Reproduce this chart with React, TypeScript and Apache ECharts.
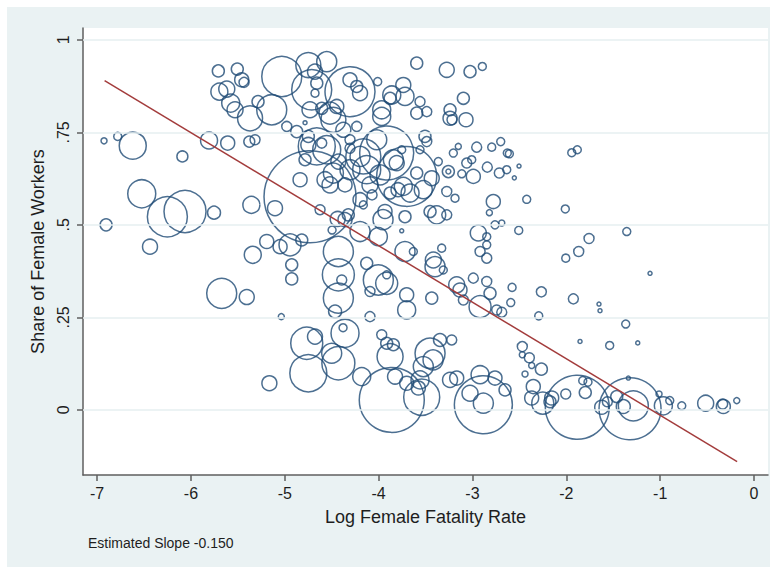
import React, { useEffect, useRef } from "react";
import * as echarts from "echarts";

const xTicks = [-7, -6, -5, -4, -3, -2, -1, 0];
const yTicks = [0, 0.25, 0.5, 0.75, 1];
const xTitle = "Log Female Fatality Rate";
const yTitle = "Share of Female Workers";
const note = "Estimated Slope -0.150";

// fitted regression line endpoints [log fatality, share]
const fitLine = [
  [-6.92, 0.89],
  [-0.18, -0.14],
];

// [log female fatality rate, share of female workers, employment weight]
const industries: [number, number, number][] = [
  [-6.926, 0.727, 9], [-6.78, 0.739, 16], [-6.62, 0.714, 182], [-6.091, 0.685, 30],
  [-5.807, 0.728, 72], [-5.608, 0.721, 49], [-5.378, 0.725, 30], [-5.708, 0.916, 36],
  [-5.506, 0.921, 36], [-5.434, 0.885, 25], [-5.459, 0.892, 49], [-5.697, 0.86, 72],
  [-5.618, 0.867, 64], [-5.576, 0.829, 81], [-5.53, 0.811, 64], [-5.37, 0.788, 156],
  [-5.285, 0.833, 36], [-6.524, 0.584, 196], [-6.251, 0.522, 400], [-6.063, 0.536, 441],
  [-5.754, 0.533, 42], [-6.904, 0.5, 36], [-5.356, 0.554, 72], [-6.436, 0.441, 56],
  [-5.341, 0.419, 72], [-5.672, 0.315, 225], [-5.405, 0.305, 56], [-5.164, 0.072, 56],
  [-5.104, 0.545, 56], [-4.731, 0.576, 2116], [-5.192, 0.455, 49], [-5.05, 0.441, 49],
  [-4.944, 0.446, 121], [-4.819, 0.459, 36], [-4.926, 0.392, 36], [-4.926, 0.354, 36],
  [-5.037, 0.252, 9], [-4.436, 0.516, 56], [-4.358, 0.514, 49], [-4.429, 0.428, 225],
  [-4.429, 0.365, 256], [-4.429, 0.302, 225], [-4.393, 0.351, 25], [-4.464, 0.266, 42],
  [-4.358, 0.207, 196], [-4.379, 0.222, 16], [-4.766, 0.18, 256], [-4.678, 0.198, 56],
  [-4.749, 0.099, 342], [-4.5, 0.153, 100], [-4.429, 0.126, 272], [-4.18, 0.09, 81],
  [-4.198, 0.482, 100], [-4.127, 0.396, 36], [-4.003, 0.351, 225], [-3.914, 0.342, 121],
  [-4.092, 0.32, 25], [-3.914, 0.365, 16], [-4.003, 0.468, 81], [-3.953, 0.514, 100],
  [-3.719, 0.428, 100], [-3.63, 0.428, 16], [-3.754, 0.484, 4], [-3.701, 0.311, 49],
  [-3.701, 0.27, 81], [-4.092, 0.252, 25], [-3.967, 0.203, 25], [-3.914, 0.18, 36],
  [-3.843, 0.176, 36], [-3.878, 0.144, 169], [-3.86, 0.027, 1056], [-3.452, 0.153, 225],
  [-3.42, 0.135, 100], [-3.524, 0.117, 100], [-3.559, 0.081, 81], [-3.541, 0.034, 324],
  [-3.346, 0.189, 42], [-3.221, 0.189, 25], [-3.381, 0.527, 81], [-3.417, 0.405, 64],
  [-3.399, 0.387, 100], [-3.434, 0.302, 36], [-3.311, 0.378, 16], [-3.328, 0.437, 16],
  [-3.274, 0.527, 25], [-3.168, 0.338, 64], [-3.133, 0.324, 49], [-3.097, 0.297, 25],
  [-2.991, 0.356, 25], [-2.938, 0.478, 64], [-2.848, 0.468, 16], [-2.919, 0.428, 25],
  [-2.848, 0.41, 25], [-2.848, 0.347, 25], [-2.919, 0.279, 121], [-2.813, 0.315, 36],
  [-2.742, 0.27, 25], [-2.778, 0.563, 49], [-2.82, 0.533, 9], [-2.76, 0.5, 16],
  [-2.688, 0.505, 9], [-3.239, 0.081, 56], [-3.168, 0.086, 49], [-2.919, 0.095, 81],
  [-2.76, 0.086, 49], [-3.026, 0.045, 64], [-2.884, 0.018, 100], [-2.884, 0.014, 841],
  [-2.653, 0.054, 36], [-3.825, 0.09, 56], [-3.701, 0.072, 49], [-3.577, 0.059, 49],
  [-5.032, 0.901, 400], [-4.749, 0.932, 156], [-4.553, 0.941, 100], [-4.678, 0.914, 56],
  [-4.659, 0.883, 36], [-4.678, 0.856, 16], [-4.713, 0.865, 400], [-4.305, 0.86, 625],
  [-4.198, 0.856, 56], [-4.305, 0.892, 49], [-4.233, 0.874, 36], [-5.139, 0.811, 225],
  [-5.317, 0.73, 25], [-4.979, 0.766, 25], [-4.873, 0.752, 36], [-4.731, 0.811, 64],
  [-4.749, 0.739, 36], [-4.784, 0.776, 4], [-4.606, 0.815, 36], [-4.518, 0.802, 121],
  [-4.446, 0.82, 49], [-4.482, 0.784, 156], [-4.376, 0.757, 56], [-4.233, 0.766, 25],
  [-4.305, 0.73, 25], [-4.659, 0.712, 342], [-4.553, 0.703, 196], [-4.749, 0.716, 56],
  [-4.606, 0.721, 25], [-4.429, 0.671, 56], [-4.482, 0.64, 100], [-4.305, 0.707, 25],
  [-4.198, 0.685, 100], [-4.163, 0.685, 306], [-4.127, 0.649, 196], [-3.967, 0.811, 81],
  [-3.967, 0.793, 81], [-3.86, 0.851, 81], [-3.878, 0.842, 36], [-3.737, 0.878, 56],
  [-3.719, 0.847, 81], [-4.01, 0.887, 16], [-3.594, 0.937, 36], [-3.559, 0.833, 25],
  [-3.487, 0.806, 25], [-3.594, 0.802, 36], [-4.02, 0.73, 100], [-3.914, 0.694, 729],
  [-3.701, 0.631, 900], [-3.843, 0.676, 100], [-3.807, 0.667, 56], [-3.754, 0.703, 16],
  [-3.737, 0.604, 81], [-3.665, 0.586, 81], [-3.524, 0.595, 81], [-3.434, 0.626, 56],
  [-3.594, 0.64, 36], [-3.878, 0.586, 36], [-3.364, 0.671, 16], [-3.257, 0.644, 36],
  [-3.257, 0.644, 6], [-3.274, 0.59, 25], [-3.186, 0.572, 16], [-3.452, 0.536, 36],
  [-3.932, 0.536, 49], [-3.719, 0.522, 36], [-4.163, 0.554, 16], [-4.323, 0.527, 36],
  [-3.274, 0.919, 56], [-3.026, 0.914, 36], [-2.895, 0.928, 16], [-3.097, 0.842, 36],
  [-3.239, 0.811, 36], [-3.239, 0.788, 49], [-3.218, 0.784, 25], [-3.069, 0.784, 49],
  [-3.204, 0.694, 16], [-3.151, 0.712, 9], [-2.955, 0.71, 25], [-2.795, 0.71, 16],
  [-2.699, 0.725, 16], [-3.061, 0.667, 25], [-3.008, 0.676, 16], [-2.991, 0.631, 49],
  [-3.114, 0.638, 16], [-2.842, 0.656, 25], [-2.714, 0.64, 25], [-2.635, 0.649, 16],
  [-2.629, 0.694, 16], [-3.506, 0.739, 36], [-3.487, 0.725, 25], [-3.559, 0.703, 16],
  [-2.848, 0.446, 16], [-4.305, 0.649, 100], [-4.358, 0.608, 49], [-4.092, 0.608, 64],
  [-3.985, 0.635, 100], [-4.198, 0.568, 49], [-4.07, 0.581, 25], [-4.518, 0.608, 64],
  [-4.571, 0.622, 64], [-4.624, 0.541, 25], [-4.784, 0.676, 36], [-3.793, 0.595, 49],
  [-4.837, 0.622, 49], [-4.496, 0.486, 16], [-2.607, 0.692, 16], [-2.504, 0.659, 4],
  [-2.554, 0.627, 4], [-1.942, 0.695, 16], [-1.883, 0.703, 16], [-2.422, 0.569, 16],
  [-2.011, 0.543, 16], [-2.507, 0.485, 16], [-1.356, 0.482, 16], [-1.758, 0.463, 25],
  [-1.868, 0.428, 25], [-2.006, 0.41, 16], [-2.578, 0.331, 16], [-2.266, 0.319, 25],
  [-2.592, 0.29, 16], [-1.925, 0.3, 25], [-2.688, 0.264, 25], [-2.294, 0.254, 16],
  [-1.652, 0.286, 4], [-1.641, 0.268, 4], [-1.108, 0.369, 4], [-1.367, 0.232, 16],
  [-1.854, 0.185, 4], [-1.538, 0.174, 16], [-1.239, 0.181, 4], [-2.469, 0.171, 25],
  [-2.469, 0.149, 9], [-2.394, 0.141, 25], [-2.369, 0.12, 9], [-2.266, 0.11, 36],
  [-2.44, 0.097, 9], [-2.352, 0.063, 49], [-2.369, 0.032, 49], [-2.251, 0.018, 121],
  [-2.156, 0.032, 49], [-2.174, 0.022, 36], [-2.006, 0.043, 25], [-1.825, 0.079, 16],
  [-1.769, 0.075, 16], [-1.798, 0.047, 36], [-1.883, 0.007, 1024], [-1.321, 0.003, 961],
  [-1.286, 0.011, 225], [-1.339, 0.086, 4], [-1.623, 0.007, 49], [-1.563, 0.022, 25],
  [-1.463, 0.036, 36], [-1.393, 0.009, 49], [-0.966, 0.011, 81], [-1.012, 0.043, 9],
  [-0.898, 0.025, 16], [-0.77, 0.011, 16], [-0.515, 0.018, 64], [-0.327, 0.009, 49],
  [-0.334, 0.016, 25], [-0.184, 0.025, 9],
];

const FONT = '"Liberation Sans", Arial, Helvetica, sans-serif';
const AXIS_COLOR = "#5f5f5f";
const TEXT_COLOR = "#1e1e1e";

export default function App() {
  const ref = useRef<HTMLDivElement>(null);

  useEffect(() => {
    document.body.style.margin = "0";
    if (!ref.current) return;
    const chart = echarts.init(ref.current, undefined, { renderer: "svg" });
    chart.setOption({
      animation: false,
      backgroundColor: "#ffffff",
      graphic: [
        {
          type: "rect",
          silent: true,
          z: -100,
          shape: { x: 7, y: 7, width: 763, height: 560 },
          style: { fill: "#eaf2f3" },
        },
        {
          type: "text",
          silent: true,
          left: 88,
          top: 536,
          style: { text: note, font: `14px ${FONT}`, fill: TEXT_COLOR },
        },
      ],
      grid: {
        left: 83,
        top: 28,
        right: 7,
        bottom: 94,
        show: true,
        backgroundColor: "#ffffff",
        borderWidth: 0,
      },
      xAxis: {
        type: "value",
        min: -7.15,
        max: 0.149,
        name: xTitle,
        nameLocation: "middle",
        nameGap: 33,
        nameTextStyle: { fontSize: 18, color: TEXT_COLOR, fontFamily: FONT },
        axisLine: { show: true, onZero: false, lineStyle: { color: AXIS_COLOR, width: 1.5 } },
        axisTick: { show: true, length: 6, customValues: xTicks, lineStyle: { color: AXIS_COLOR, width: 1.5 } },
        axisLabel: {
          customValues: xTicks,
          fontSize: 16,
          color: TEXT_COLOR,
          fontFamily: FONT,
          margin: 10,
          formatter: (v: number) => String(v),
        },
        splitLine: { show: false },
      },
      yAxis: {
        type: "value",
        min: -0.176,
        max: 1.032,
        name: yTitle,
        nameLocation: "middle",
        nameGap: 34,
        nameTextStyle: { fontSize: 18, color: TEXT_COLOR, fontFamily: FONT },
        axisLine: { show: true, onZero: false, lineStyle: { color: AXIS_COLOR, width: 1.5 } },
        axisTick: { show: true, length: 6, customValues: yTicks, lineStyle: { color: AXIS_COLOR, width: 1.5 } },
        axisLabel: {
          customValues: yTicks,
          rotate: 90,
          fontSize: 16,
          color: TEXT_COLOR,
          fontFamily: FONT,
          margin: 12,
          formatter: (v: number) => (v === 0 ? "0" : v === 1 ? "1" : String(v).replace(/^0\./, ".")),
        },
        splitLine: { show: false },
      },
      series: [
        {
          type: "scatter",
          data: industries,
          symbol: "circle",
          symbolSize: (v: number[]) => 2 * Math.sqrt(v[2]),
          itemStyle: { color: "rgba(0,0,0,0)", borderColor: "#1f4b75", borderWidth: 1.5 },
          emphasis: { disabled: true },
          z: 3,
          markLine: {
            silent: true,
            symbol: "none",
            label: { show: false },
            lineStyle: { color: "#e6eff1", width: 1.5, type: "solid" },
            data: yTicks.map((v) => ({ yAxis: v })),
          },
        },
        {
          type: "line",
          data: fitLine,
          symbol: "none",
          lineStyle: { color: "#a33c3c", width: 1.5 },
          emphasis: { disabled: true },
          z: 5,
        },
      ],
    });
    return () => chart.dispose();
  }, []);

  return <div ref={ref} style={{ width: 775, height: 569 }} />;
}
